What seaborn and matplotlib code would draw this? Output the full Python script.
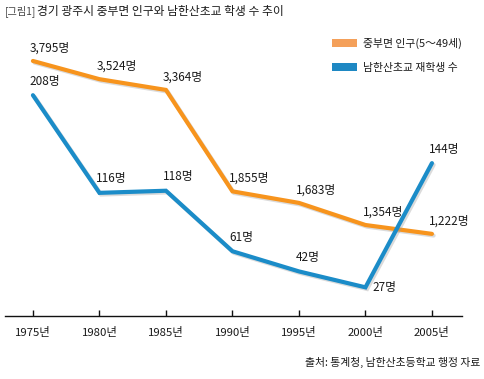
import matplotlib
matplotlib.use("Agg")
import matplotlib.pyplot as plt
import matplotlib.patheffects as pe
from matplotlib.patches import Patch
import seaborn as sns
import pandas as pd

years = [1975, 1980, 1985, 1990, 1995, 2000, 2005]
year_labels = ["1975년", "1980년", "1985년", "1990년", "1995년", "2000년", "2005년"]
population = [3795, 3524, 3364, 1855, 1683, 1354, 1222]
students = [208, 116, 118, 61, 42, 27, 144]
pop_labels = ["3,795명", "3,524명", "3,364명", "1,855명", "1,683명", "1,354명", "1,222명"]
stu_labels = ["208명", "116명", "118명", "61명", "42명", "27명", "144명"]
series_names = ["중부면 인구(5～49세)", "남한산초교 재학생 수"]
title = "경기 광주시 중부면 인구와 남한산초교 학생 수 추이"
source = "출처: 통계청, 남한산초등학교 행정 자료"

sns.set_theme(style="white")
plt.rcParams["font.family"] = ["Noto Sans CJK KR", "DejaVu Sans"]

ORANGE = "#F7941D"
BLUE = "#1B8CC8"
TXT = "#1a1a1a"

df = pd.DataFrame({"year": years, "pop": population, "stu": students})

W, H = 485, 379
fig = plt.figure(figsize=(W / 100, H / 100), dpi=100)
ax1 = fig.add_axes([5 / W, 1 - 316 / H, (462 - 5) / W, (316 - 40) / H])
ax2 = ax1.twinx()

shadow = [pe.SimpleLineShadow(offset=(1.2, -1.2), shadow_color="#999999", alpha=0.35), pe.Normal()]

sns.lineplot(data=df, x="year", y="pop", ax=ax1, color=ORANGE, linewidth=3.0,
             path_effects=shadow, solid_joinstyle="miter")
sns.lineplot(data=df, x="year", y="stu", ax=ax2, color=BLUE, linewidth=3.0,
             path_effects=shadow, solid_joinstyle="miter")

ax1.set_xlim(1972.9, 2007.26)
ax1.set_ylim(0, 4107)
ax2.set_ylim(0, 260)

for ax in (ax1, ax2):
    ax.set_xlabel("")
    ax.set_ylabel("")
    ax.set_yticks([])
    for s in ("top", "left", "right", "bottom"):
        ax.spines[s].set_visible(False)

ax1.spines["bottom"].set_visible(True)
ax1.spines["bottom"].set_color("#111111")
ax1.spines["bottom"].set_linewidth(1.0)
ax1.set_xticks(years)
ax1.set_xticklabels(year_labels, fontsize=8.2, color=TXT)
ax1.tick_params(axis="x", direction="in", length=4, width=1, color="#111111", pad=8, bottom=True)

fs = 8.5
for x, y, lab in zip(years, population, pop_labels):
    ax1.annotate(lab, (x, y), xytext=(-3, 13), textcoords="offset pixels",
                 ha="left", va="center", fontsize=fs, color=TXT)
for x, y, lab in zip(years, students, stu_labels):
    off = (7, 0) if lab == "27명" else (-3, 14)
    ax2.annotate(lab, (x, y), xytext=off, textcoords="offset pixels",
                 ha="left", va="center", fontsize=fs, color=TXT)

handles = [Patch(facecolor="#F4A05A", edgecolor="none", label=series_names[0]),
           Patch(facecolor="#1E88C3", edgecolor="none", label=series_names[1])]
leg = fig.legend(handles=handles, loc="upper left", bbox_to_anchor=(322 / W, 1 - 28 / H),
                 frameon=False, fontsize=7.8, handlelength=2.3, handleheight=0.7,
                 handletextpad=0.6, labelspacing=1.3)
for t in leg.get_texts():
    t.set_color(TXT)
    t.set_fontweight("medium")

fig.text(5 / W, 1 - 11 / H, "[그림1]", fontsize=7.3, color="#444444", ha="left", va="center")
fig.text(37 / W, 1 - 11 / H, title, fontsize=8.5, color=TXT, ha="left", va="center",
         fontweight="medium")
fig.text(480 / W, 1 - 362 / H, source, fontsize=7.8, color=TXT, ha="right", va="center",
         fontweight="medium")

fig.savefig("out.png", dpi=100)
